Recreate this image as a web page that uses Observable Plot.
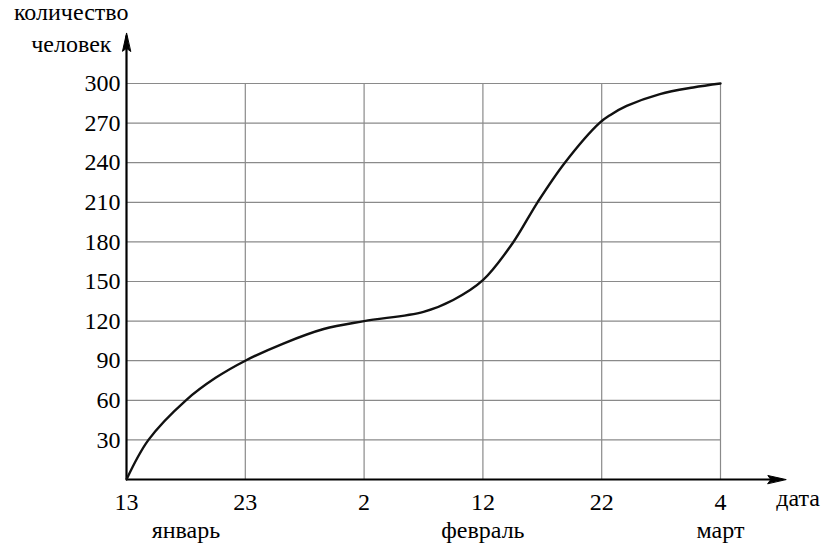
<!DOCTYPE html>
<html>
<head>
<meta charset="utf-8">
<script src="https://cdn.jsdelivr.net/npm/d3@7"></script>
<script src="https://cdn.jsdelivr.net/npm/@observablehq/plot@0.6"></script>
<style>
  html, body { margin: 0; padding: 0; background: #fff; }
  svg text { font-family: "Liberation Serif", "DejaVu Serif", "Times New Roman", serif !important; }
</style>
</head>
<body>
<div id="chart"></div>
<script>
// days counted from 13 January
const days   = [0, 1.85, 5, 7.5, 10, 13.2, 16.6, 20, 25, 27.5, 30, 32.5, 34.6, 36.9, 39.8, 40.7, 42.1, 44.9, 47.7, 50];
const counts = [0, 30, 60, 77, 90, 103, 114, 120, 127, 136, 151, 179, 210, 240, 270, 276, 283, 292, 297, 300];

const xTicks = [0, 10, 20, 30, 40, 50];
const xTickLabels = ["13", "23", "2", "12", "22", "4"];
const months = ["январь", "февраль", "март"];
const monthDays = [5, 30, 50];
const yTicks = [30, 60, 90, 120, 150, 180, 210, 240, 270, 300];

const data = days.map((d, i) => ({day: d, count: counts[i]}));
const monthData = months.map((m, i) => ({name: m, day: monthDays[i]}));

const FONT = "'Liberation Serif', 'DejaVu Serif', 'Times New Roman', serif";
const FS = 24;

const triangle = {
  draw(context, l) {
    context.moveTo(0, -l);
    context.lineTo(-4, 0);
    context.lineTo(0, -3);
    context.lineTo(4, 0);
    context.closePath();
  }
};

const chart = Plot.plot({
  width: 836,
  height: 560,
  marginLeft: 126,
  marginRight: 116,
  marginTop: 83,
  marginBottom: 81,
  style: `font-family: ${FONT}; font-size: ${FS}px; background: #fff; color: #000;`,
  x: {domain: [0, 50]},
  y: {domain: [0, 300]},
  marks: [
    // grid
    Plot.gridY(yTicks, {stroke: "#8a8a8a", strokeOpacity: 1, strokeWidth: 1.2}),
    Plot.gridX(xTicks.slice(1), {stroke: "#8a8a8a", strokeOpacity: 1, strokeWidth: 1.2}),
    // axes labels
    Plot.axisY({ticks: yTicks, tickSize: 0, tickPadding: 6, fontSize: FS, fontFamily: FONT, label: null}),
    Plot.axisX({ticks: xTicks, tickSize: 0, tickPadding: 13, fontSize: FS, fontFamily: FONT, label: null,
      tickFormat: d => xTickLabels[xTicks.indexOf(d)]}),
    // axis lines
    Plot.ruleY([0], {x1: 0, x2: 55.2, stroke: "#000", strokeWidth: 2.2}),
    Plot.ruleX([0], {y1: 0, y2: 336, stroke: "#000", strokeWidth: 2.2}),
    Plot.vector([{x: 0, y: 338}], {x: "x", y: "y", length: 18, anchor: "end", shape: triangle, fill: "#000", stroke: "#000", strokeWidth: 1, rotate: 0}),
    Plot.vector([{x: 55.5, y: 0}], {x: "x", y: "y", length: 18, anchor: "end", shape: triangle, fill: "#000", stroke: "#000", strokeWidth: 1, rotate: 90}),
    // curve
    Plot.line(data, {x: "day", y: "count", curve: "catmull-rom", stroke: "#111", strokeWidth: 2.4}),
    // month labels
    Plot.text(monthData, {x: "day", y: 0, text: "name", dy: 51, fontSize: FS, fontFamily: FONT, lineAnchor: "middle"}),
    // axis titles
    Plot.text(["дата"], {x: 54.7, y: 0, text: d => d, textAnchor: "start", dy: 19, fontSize: FS, fontFamily: FONT, lineAnchor: "middle"}),
    Plot.text(["количество"], {x: 0, y: 354, text: d => d, textAnchor: "end", dx: 2, fontSize: FS, fontFamily: FONT, lineAnchor: "middle"}),
    Plot.text(["человек"], {x: 0, y: 330, text: d => d, textAnchor: "end", dx: -15, fontSize: FS, fontFamily: FONT, lineAnchor: "middle"})
  ]
});
document.getElementById("chart").appendChild(chart);
</script>
</body>
</html>
